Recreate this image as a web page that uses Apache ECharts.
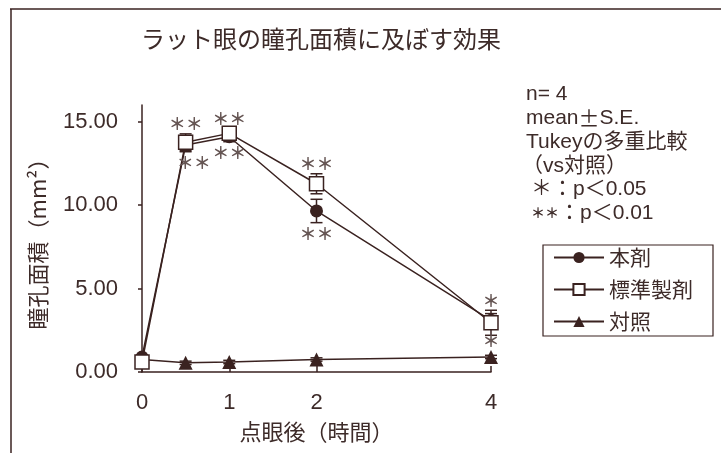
<!DOCTYPE html>
<html><head><meta charset="utf-8">
<script src="https://cdn.jsdelivr.net/npm/echarts@6/dist/echarts.min.js"></script>
<style>html,body{margin:0;padding:0;background:#fff}#c{width:721px;height:453px}</style>
</head><body><div id="c"></div>
<script>
// ---- data ----
const times = [0, 0.5, 1, 2, 4];
const xTicks = [0, 1, 2, 4];
const yTicks = [0, 5, 10, 15];
const seriesNames = ['本剤', '標準製剤', '対照'];
const honzai = [0.9, 13.6, 14.1, 9.65, 3.1];
const honzaiSE = [0.1, 0.4, 0.3, 0.7, 0.4];
const hyojun = [0.6, 13.77, 14.3, 11.28, 2.95];
const hyojunSE = [0.1, 0.5, 0.3, 0.6, 0.75];
const control = [0.75, 0.55, 0.6, 0.75, 0.9];
const controlSE = [0.1, 0.1, 0.1, 0.1, 0.1];
const sigAbove = ['', '＊＊', '＊＊', '＊＊', '＊'];
const sigBelow = ['', '＊＊', '＊＊', '＊＊', '＊'];
const notes = ['n= 4', 'mean{p|±}S.E.', 'Tukeyの多重比較', '（vs対照）', '＊：p＜0.05', '{s|＊＊}：p＜0.01'];

const DARK = '#3a2220';
const TEXT = '#3d2b29';
const STAR = '#665654';
const LAT = "'Liberation Sans', 'Noto Sans CJK JP', sans-serif";
const JP = "'Noto Sans CJK JP', 'Liberation Sans', sans-serif";

const chart = echarts.init(document.getElementById('c'), null, {renderer: 'canvas'});

function errBar(name, vals, ses) {
  return {
    type: 'custom', name: name, silent: true, z: 1,
    data: times.map((t, i) => [t, vals[i], ses[i]]),
    renderItem: function (params, api) {
      const x = api.value(0), v = api.value(1), s = api.value(2);
      const a = api.coord([x, v + s]), b = api.coord([x, v - s]);
      const w = 6, st = {stroke: DARK, lineWidth: 1.5};
      return {type: 'group', children: [
        {type: 'line', shape: {x1: a[0], y1: a[1], x2: b[0], y2: b[1]}, style: st},
        {type: 'line', shape: {x1: a[0] - w, y1: a[1], x2: a[0] + w, y2: a[1]}, style: st},
        {type: 'line', shape: {x1: b[0] - w, y1: b[1], x2: b[0] + w, y2: b[1]}, style: st}
      ]};
    }
  };
}

const sigSeries = {
  type: 'custom', name: 'sig', silent: true, z: 5,
  data: times.map((t, i) => [t, i]),
  renderItem: function (params, api) {
    const i = api.value(1), x = api.value(0);
    const topPt = api.coord([x, hyojun[i] + hyojunSE[i]]);
    const lowA = api.coord([x, honzai[i] - honzaiSE[i]]);
    const lowB = api.coord([x, hyojun[i]]);
    const lowY = Math.max(lowA[1], lowB[1] + 7);
    const st = {fill: STAR, font: 'bold 17px ' + JP, align: 'center', verticalAlign: 'middle'};
    const children = [];
    if (sigAbove[i]) children.push({type: 'text', x: topPt[0], y: topPt[1] - 10,
      style: Object.assign({text: sigAbove[i]}, st)});
    if (sigBelow[i]) children.push({type: 'text', x: topPt[0] + (i === 1 ? 8 : 0), y: lowY + 11,
      style: Object.assign({text: sigBelow[i]}, st)});
    return {type: 'group', children: children};
  }
};

const lineCommon = {type: 'line', symbolSize: 13, z: 3,
  lineStyle: {color: DARK, width: 1.5}, emphasis: {disabled: true}, animation: false};

const graphics = [
  {type: 'line', shape: {x1: 10, y1: 9, x2: 721, y2: 9}, style: {stroke: DARK, lineWidth: 1.5}},
  {type: 'line', shape: {x1: 11, y1: 9, x2: 11, y2: 453}, style: {stroke: DARK, lineWidth: 1.5}}
];
const noteY = [94, 118, 142, 166, 189, 213];
const noteX = [526, 526, 526, 522, 531, 531];
notes.forEach((t, i) => graphics.push({type: 'text', x: noteX[i], y: noteY[i],
  style: {text: t, fill: TEXT, font: '21px ' + LAT, verticalAlign: 'middle',
    rich: {s: {fontSize: 14, fontFamily: JP, fontWeight: 'bold', fill: TEXT},
           p: {fontSize: 21, fontFamily: JP, fill: TEXT}}}}));

chart.setOption({
  animation: false,
  backgroundColor: '#fff',
  title: {text: 'ラット眼の瞳孔面積に及ぼす効果', left: 141, top: 27, padding: 0,
    textStyle: {fontFamily: JP, fontSize: 24, fontWeight: 'normal', color: TEXT}},
  grid: {left: 142, right: 230, top: 105, bottom: 81},
  xAxis: {type: 'value', min: 0, max: 4,
    name: '点眼後（時間）', nameLocation: 'middle', nameGap: 49,
    nameTextStyle: {fontFamily: JP, fontSize: 22, color: TEXT},
    axisLine: {lineStyle: {color: DARK, width: 1.5}},
    axisTick: {inside: true, length: 6, customValues: xTicks, lineStyle: {color: DARK, width: 1.5}},
    axisLabel: {customValues: xTicks, margin: 20, fontFamily: LAT, fontSize: 22, color: TEXT},
    splitLine: {show: false}},
  yAxis: {type: 'value', min: 0, max: 16,
    name: '瞳孔面積（mm²）', nameLocation: 'middle', nameRotate: 90, nameGap: 93,
    nameTextStyle: {fontFamily: JP, fontSize: 22, color: TEXT},
    axisLine: {show: true, lineStyle: {color: DARK, width: 1.5}},
    axisTick: {show: true, length: 4, customValues: yTicks, lineStyle: {color: DARK, width: 1.5}},
    axisLabel: {customValues: yTicks, margin: 24, fontFamily: LAT, fontSize: 22, color: TEXT,
      formatter: v => v.toFixed(2)},
    splitLine: {show: false}},
  legend: {orient: 'vertical', left: 543, top: 245, data: seriesNames,
    itemWidth: 50, itemHeight: 14, itemGap: 11, padding: [2, 20, 4, 10],
    borderColor: DARK, borderWidth: 1.2, selectedMode: false,
    textStyle: {fontFamily: JP, fontSize: 21, color: TEXT}},
  graphic: graphics,
  series: [
    errBar('e1', honzai, honzaiSE),
    errBar('e2', hyojun, hyojunSE),
    errBar('e3', control, controlSE),
    Object.assign({}, lineCommon, {name: '対照', symbol: 'triangle', symbolSize: 14,
      data: times.map((t, i) => [t, control[i]]), itemStyle: {color: DARK}}),
    Object.assign({}, lineCommon, {name: '本剤', symbol: 'circle',
      data: times.map((t, i) => [t, honzai[i]]), itemStyle: {color: DARK}}),
    Object.assign({}, lineCommon, {name: '標準製剤', symbol: 'rect', symbolSize: 14,
      data: times.map((t, i) => [t, hyojun[i]]),
      itemStyle: {color: '#fff', borderColor: DARK, borderWidth: 1.5}}),
    sigSeries
  ]
});
</script></body></html>
